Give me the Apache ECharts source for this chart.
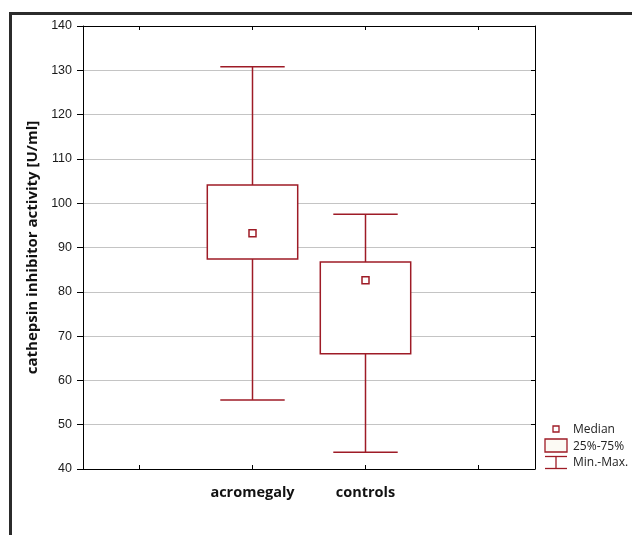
<!DOCTYPE html>
<html>
<head>
<meta charset="utf-8">
<script src="https://cdn.jsdelivr.net/npm/echarts@6/dist/echarts.min.js"></script>
<style>
html,body{margin:0;padding:0;background:#fff;}
#chart{width:632px;height:535px;}
</style>
</head>
<body>
<div id="chart"></div>
<script>
// ---- data ----
const categories = ['', 'acromegaly', 'controls', ''];
const groupIndex = [1, 2];
const minVals = [55.6, 43.8];
const q1Vals = [87.4, 66.0];
const medianVals = [93.2, 82.6];
const q3Vals = [104.1, 86.7];
const maxVals = [130.8, 97.5];
const yTicks = { min: 40, max: 140, interval: 10 };
const legendLabels = ['Median', '25%-75%', 'Min.-Max.'];

const RED = '#9e1b26';
const boxData = groupIndex.map((g, i) => [g, minVals[i], q1Vals[i], medianVals[i], q3Vals[i], maxVals[i]]);

const chart = echarts.init(document.getElementById('chart'), null, { renderer: 'canvas' });

function renderItem(params, api) {
  const idx = api.value(0);
  const pMin = api.coord([idx, api.value(1)]);
  const pQ1 = api.coord([idx, api.value(2)]);
  const pMed = api.coord([idx, api.value(3)]);
  const pQ3 = api.coord([idx, api.value(4)]);
  const pMax = api.coord([idx, api.value(5)]);
  const slot = api.size([1, 0])[0];
  const boxW = slot * 0.8;
  const capW = slot * 0.57;
  const cx = pMed[0];
  const st = { stroke: RED, lineWidth: 1.5, fill: null };
  return {
    type: 'group',
    children: [
      { type: 'line', shape: { x1: cx, y1: pMax[1], x2: cx, y2: pQ3[1] }, style: st },
      { type: 'line', shape: { x1: cx, y1: pQ1[1], x2: cx, y2: pMin[1] }, style: st },
      { type: 'line', shape: { x1: cx - capW / 2, y1: pMax[1], x2: cx + capW / 2, y2: pMax[1] }, style: st },
      { type: 'line', shape: { x1: cx - capW / 2, y1: pMin[1], x2: cx + capW / 2, y2: pMin[1] }, style: st },
      { type: 'rect', shape: { x: cx - boxW / 2, y: pQ3[1], width: boxW, height: pQ1[1] - pQ3[1] }, style: { stroke: RED, lineWidth: 1.5, fill: '#fff' } },
      { type: 'rect', shape: { x: cx - 3.5, y: pMed[1] - 3.5, width: 7, height: 7 }, style: { stroke: RED, lineWidth: 1.5, fill: '#fff' } }
    ]
  };
}

const lgX = 545, lgText = 573;
const option = {
  animation: false,
  backgroundColor: '#fff',
  grid: { left: 83, right: 97, top: 26, bottom: 66, containLabel: false },
  xAxis: [
    {
      type: 'category', data: categories, position: 'bottom', boundaryGap: true,
      axisLine: { show: true, lineStyle: { color: '#000', width: 1 } },
      axisTick: { show: true, inside: true, alignWithLabel: true, length: 4, lineStyle: { color: '#000' } },
      axisLabel: { color: '#111', fontFamily: 'Open Sans', fontWeight: 'bold', fontSize: 14.5, margin: 16 },
      splitLine: { show: false }
    },
    {
      type: 'category', data: categories, position: 'top', boundaryGap: true,
      axisLine: { show: true, lineStyle: { color: '#000', width: 1 } },
      axisTick: { show: true, inside: true, alignWithLabel: true, length: 4, lineStyle: { color: '#000' } },
      axisLabel: { show: false }, splitLine: { show: false }
    }
  ],
  yAxis: [
    {
      type: 'value', min: yTicks.min, max: yTicks.max, interval: yTicks.interval, position: 'left',
      name: 'cathepsin inhibitor activity [U/ml]', nameLocation: 'middle', nameGap: 42, nameRotate: 90,
      nameTextStyle: { fontFamily: 'Open Sans', fontWeight: 'bold', fontSize: 15, color: '#111' },
      axisLine: { show: true, lineStyle: { color: '#000', width: 1 } },
      axisTick: { show: true, inside: false, length: 6, lineStyle: { color: '#000' } },
      axisLabel: { color: '#1a1a1a', fontFamily: 'Liberation Sans', fontSize: 12.5, margin: 11 },
      splitLine: { show: true, lineStyle: { color: '#c4c4c4', width: 1 } }
    },
    {
      type: 'value', min: yTicks.min, max: yTicks.max, interval: yTicks.interval, position: 'right',
      axisLine: { show: true, lineStyle: { color: '#000', width: 1 } },
      axisTick: { show: true, inside: true, length: 4, lineStyle: { color: '#000' } },
      axisLabel: { show: false }, splitLine: { show: false }
    }
  ],
  series: [
    {
      type: 'custom', xAxisIndex: 0, yAxisIndex: 0,
      renderItem: renderItem,
      encode: { x: 0, y: [1, 2, 3, 4, 5] },
      data: boxData, z: 5
    }
  ],
  graphic: [
    { type: 'rect', shape: { x: 10.5, y: 13.5, width: 800, height: 700 }, style: { stroke: '#2b2b2b', lineWidth: 3, fill: null }, silent: true },
    // legend
    { type: 'rect', shape: { x: 553, y: 426, width: 6, height: 6 }, style: { stroke: RED, lineWidth: 1.3, fill: '#fff' } },
    { type: 'text', x: lgText, y: 430, style: { text: legendLabels[0], fontFamily: 'Open Sans', fontSize: 12, fill: '#222', verticalAlign: 'middle' } },
    { type: 'rect', shape: { x: lgX, y: 439, width: 22, height: 13 }, style: { stroke: RED, lineWidth: 1.3, fill: '#fcfaf4' } },
    { type: 'text', x: lgText, y: 447, style: { text: legendLabels[1], fontFamily: 'Open Sans', fontSize: 12, fill: '#222', verticalAlign: 'middle' } },
    { type: 'line', shape: { x1: lgX, y1: 456.5, x2: lgX + 22, y2: 456.5 }, style: { stroke: RED, lineWidth: 1.3 } },
    { type: 'line', shape: { x1: lgX + 11, y1: 456.5, x2: lgX + 11, y2: 468.5 }, style: { stroke: RED, lineWidth: 1.3 } },
    { type: 'line', shape: { x1: lgX, y1: 468.5, x2: lgX + 22, y2: 468.5 }, style: { stroke: RED, lineWidth: 1.3 } },
    { type: 'text', x: lgText, y: 463, style: { text: legendLabels[2], fontFamily: 'Open Sans', fontSize: 12, fill: '#222', verticalAlign: 'middle' } }
  ]
};
chart.setOption(option);
</script>
</body>
</html>
